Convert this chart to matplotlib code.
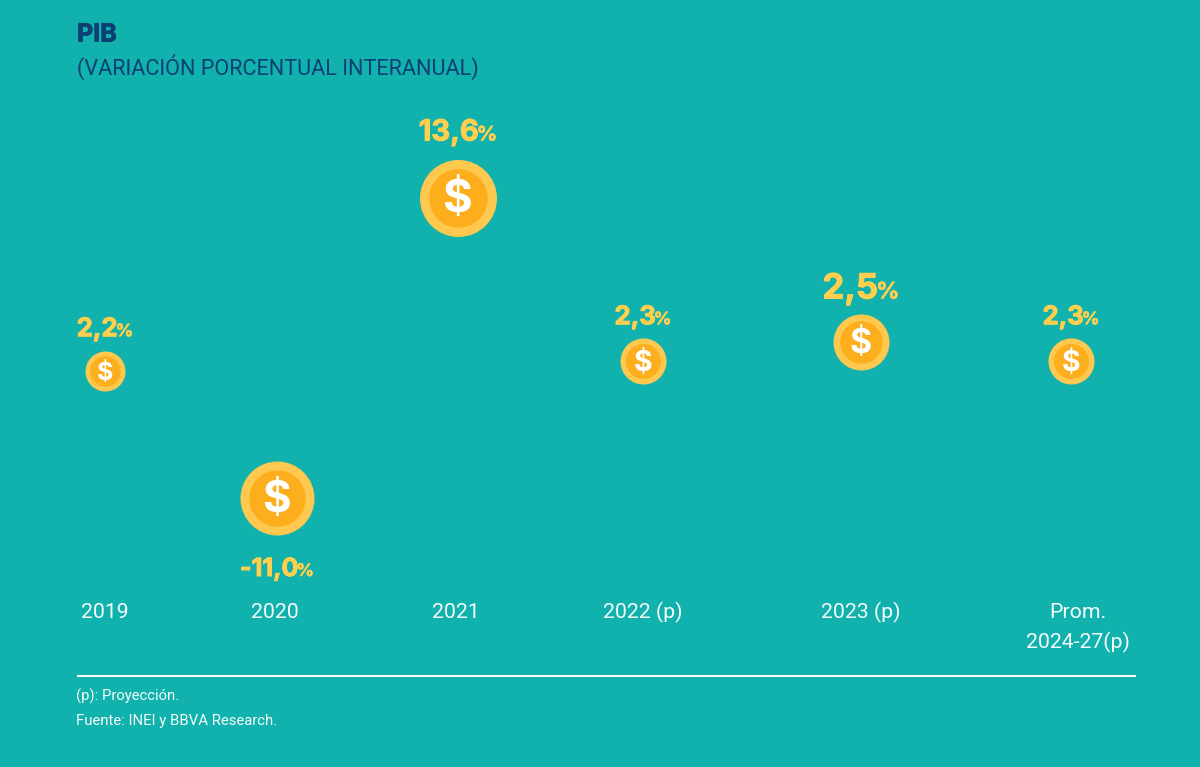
import numpy as np
import matplotlib
matplotlib.use('Agg')
import matplotlib.pyplot as plt
import matplotlib.patheffects as pe

categories = ['2019', '2020', '2021', '2022 (p)', '2023 (p)', 'Prom.\n2024-27(p)']
values = [2.2, -11.0, 13.6, 2.3, 2.5, 2.3]

# the chart is an infographic, heights do not follow the values linearly
scale_values = [-11.0, 2.2, 2.3, 2.5, 13.6]
scale_pixels = [498, 371, 361, 342, 198]

BG = '#11B1AD'
NAVY = '#0C3F74'
RING = '#FFC84E'
COIN = '#FDAE1C'
LABEL = '#FFCF4D'
WHITE = '#F4FBFA'

FONT = 'Roboto'
BOLD_FONT = 'Inter'


def forward(v):
    return np.interp(v, scale_values, -np.array(scale_pixels, dtype=float))


def inverse(p):
    return np.interp(p, -np.array(scale_pixels, dtype=float), scale_values)


# layout in pixels
coin_x = [105, 277, 458, 643, 861, 1071]
coin_d = [40, 74, 77, 46, 56, 46]
label_off = [44, 69, 68, 46, 56, 46]
label_size = [18.5, 18, 21, 18.5, 25, 18.5]
pct_size = [12.5, 12.5, 14.5, 12.5, 16.5, 12.5]
cat_x = [105, 275, 456, 643, 861, 1078]
cat_y = [612, 612, 612, 612, 612, 628]

fig = plt.figure(figsize=(12, 7.67), dpi=100, facecolor=BG)

# pixel axes for the frame texts
bg = fig.add_axes([0, 0, 1, 1])
bg.set_xlim(0, 1200)
bg.set_ylim(767, 0)
bg.axis('off')

title = bg.text(77, 35, 'PIB', color=NAVY, fontsize=18, fontweight='bold', family=BOLD_FONT, va='center')
title.set_path_effects([pe.withStroke(linewidth=0.6, foreground=NAVY)])
bg.text(77, 67, '(VARIACIÓN PORCENTUAL INTERANUAL)', color=NAVY, fontsize=15.6, family=FONT, va='center')

for x, y, cat in zip(cat_x, cat_y, categories):
    bg.text(x, y, cat, color=WHITE, fontsize=15.3, family=FONT, ha='center', va='center', linespacing=1.55)

bg.plot([77, 1136], [676, 676], color=WHITE, lw=1.5, solid_capstyle='butt')
bg.text(76, 696, '(p): Proyección.', color=WHITE, fontsize=10.7, family=FONT, va='center')
bg.text(76, 721, 'Fuente: INEI y BBVA Research.', color=WHITE, fontsize=10.7, family=FONT, va='center')

# data axes, x in pixels, y through the value scale
ax = fig.add_axes([0, (767 - 498) / 767, 1, (498 - 198) / 767], facecolor='none')
ax.set_yscale('function', functions=(forward, inverse))
ax.set_xlim(0, 1200)
ax.set_ylim(-11.0, 13.6)
ax.axis('off')

px = 0.72
for i, v in enumerate(values):
    d = coin_d[i]
    ax.scatter(coin_x[i], v, s=(d * px) ** 2, color=RING, linewidths=0, clip_on=False, zorder=2)
    ax.scatter(coin_x[i], v, s=(d * 0.76 * px) ** 2, color=COIN, linewidths=0, clip_on=False, zorder=3)
    ax.annotate('$', (coin_x[i], v), xytext=(0, -1.5), textcoords='offset points', color='white',
                fontsize=d * 0.4 + 2, fontweight='bold', family=BOLD_FONT, ha='center', va='center',
                annotation_clip=False, zorder=4)

fig.canvas.draw()
renderer = fig.canvas.get_renderer()

for i, v in enumerate(values):
    txt = '{:.1f}'.format(v).replace('.', ',')
    # number and the smaller % sign are centred together above or below the coin
    off = label_off[i] if v < 0 else -label_off[i]
    x0, y0 = ax.transData.transform((coin_x[i], v))
    y0 = y0 - off
    t1 = fig.text(0, 0, txt, color=LABEL, fontsize=label_size[i], fontweight='bold', family=BOLD_FONT)
    t2 = fig.text(0, 0, '%', color=LABEL, fontsize=pct_size[i], fontweight='bold', family=BOLD_FONT)
    t1.set_path_effects([pe.withStroke(linewidth=0.7, foreground=LABEL)])
    t2.set_path_effects([pe.withStroke(linewidth=0.4, foreground=LABEL)])
    w1 = t1.get_window_extent(renderer).width
    w2 = t2.get_window_extent(renderer).width
    left = x0 - (w1 + w2 - 2) / 2
    base = y0 - label_size[i] * 0.36 / 0.72
    t1.set_position((left / 1200, base / 767))
    t2.set_position(((left + w1 - 2) / 1200, base / 767))

fig.savefig('out.png', dpi=100, facecolor=BG)
